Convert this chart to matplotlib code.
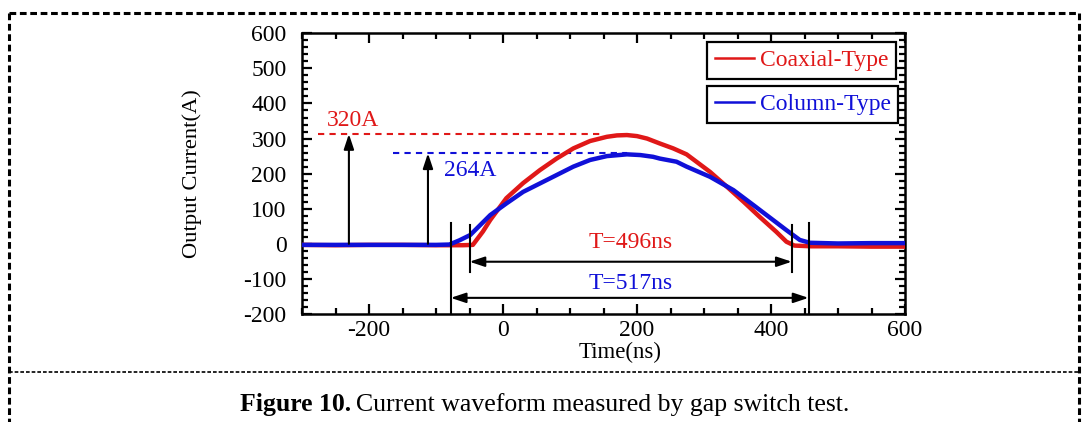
import matplotlib
matplotlib.use("Agg")
import matplotlib.pyplot as plt
from matplotlib.lines import Line2D
from matplotlib.ticker import MultipleLocator

# ---------------- data ----------------
coax_t = [-300, -250, -200, -150, -100, -60, -45, -30, -19, 5, 30, 55, 80, 105, 130,
          155, 170, 185, 200, 215, 234, 254, 274, 309, 334, 359, 383, 408, 423, 435,
          460, 500, 550, 600]
coax_i = [-3, -4, -3, -3, -4, -4, -3, 35, 68, 130, 173, 210, 243, 272, 293,
          305, 309, 310, 307, 300, 286, 272, 255, 205, 163, 120, 77, 34, 6, -5,
          -7, -7, -8, -8]

col_t = [-300, -250, -200, -150, -100, -80, -65, -49, -19, 5, 30, 55, 80, 105, 130,
         155, 185, 205, 224, 234, 259, 274, 309, 344, 374, 403, 423, 443, 458, 500,
         550, 600]
col_i = [-3, -3, -3, -3, -3, -2, 10, 25, 82, 115, 148, 172, 196, 220, 239,
         250, 255, 253, 248, 243, 234, 220, 191, 153, 110, 68, 39, 11, 3, 1,
         2, 2]

series_names = ["Coaxial-Type", "Column-Type"]
peak_labels = ["320A", "264A"]
peak_levels = [313, 258]
period_labels = ["T=496ns", "T=517ns"]
coax_span = [-50, 431]
col_span = [-78, 456]
x_ticks = [-200, 0, 200, 400, 600]
y_ticks = [-200, -100, 0, 100, 200, 300, 400, 500, 600]

RED = "#e01818"
BLUE = "#1010d8"
FONT = "Liberation Serif"
FS = 17

plt.rcParams["font.family"] = [FONT, "DejaVu Serif"]
plt.rcParams["axes.unicode_minus"] = False

W, H = 1089, 422
fig = plt.figure(figsize=(W / 100, H / 100), dpi=100)

def fx(px):
    return px / W

def fy(py):
    return 1 - py / H

ax = fig.add_axes([fx(302), fy(314), fx(905) - fx(302), fy(33.3) - fy(314)])
ax.set_xlim(-300, 600)
ax.set_ylim(-200, 600)

# dashed reference lines
ax.plot([-276, 150], [peak_levels[0]] * 2, color=RED, lw=1.5, ls=(0, (3, 2.5)), zorder=1)
ax.plot([-164, 185], [peak_levels[1]] * 2, color=BLUE, lw=1.5, ls=(0, (3, 2.5)), zorder=1)

# curves
ax.plot(coax_t, coax_i, color=RED, lw=3.2, zorder=3, solid_joinstyle="round")
ax.plot(col_t, col_i, color=BLUE, lw=3.2, zorder=4, solid_joinstyle="round")

# vertical arrows to the peak levels
arr = dict(arrowstyle="-|>,head_length=0.9,head_width=0.3", color="black", lw=1.5,
           shrinkA=0, shrinkB=0)
ax.annotate("", xy=(-230, peak_levels[0]), xytext=(-230, 0), arrowprops=arr, zorder=5)
ax.annotate("", xy=(-112, peak_levels[1]), xytext=(-112, 0), arrowprops=arr, zorder=5)
ax.text(-224, 352, peak_labels[0], color=RED, fontsize=FS, ha="center", va="center")
ax.text(-49, 210, peak_labels[1], color=BLUE, fontsize=FS, ha="center", va="center")

# span markers
for t in coax_span:
    ax.plot([t, t], [53, -80], color="black", lw=1.5, zorder=5)
for t in col_span:
    ax.plot([t, t], [59, -200], color="black", lw=1.5, zorder=5, clip_on=False)
darr = dict(arrowstyle="<|-|>,head_length=0.9,head_width=0.3", color="black", lw=1.5,
            shrinkA=0, shrinkB=0)
ax.annotate("", xy=(coax_span[0], -51), xytext=(coax_span[1], -51), arrowprops=darr, zorder=5)
ax.annotate("", xy=(col_span[0], -154), xytext=(col_span[1], -154), arrowprops=darr, zorder=5)
ax.text(190, 3, period_labels[0], color=RED, fontsize=FS, ha="center", va="center")
ax.text(190, -112, period_labels[1], color=BLUE, fontsize=FS, ha="center", va="center")

# ticks
ax.set_xticks(x_ticks)
ax.set_yticks(y_ticks)
ax.xaxis.set_minor_locator(MultipleLocator(50))
ax.yaxis.set_minor_locator(MultipleLocator(20))
ax.tick_params(which="both", direction="in", top=True, right=True, width=1.6)
ax.tick_params(which="major", length=7)
ax.tick_params(which="minor", length=4.5)
ax.tick_params(axis="x", which="major", pad=4, labelsize=FS)
ax.tick_params(axis="y", which="major", pad=11, labelsize=FS)
for s in ax.spines.values():
    s.set_linewidth(1.8)

ax.set_xlabel("Time(ns)", fontsize=16.5)
ax.set_ylabel("Output Current(A)", fontsize=16.2)
ax.xaxis.set_label_coords(0.527, -0.1)
ax.yaxis.set_label_coords(-0.166, 0.5)

# legends: two separate boxes
def mk_legend(handle, name, color, top_px):
    lg = fig.legend([handle], [name], loc="upper left",
                    bbox_to_anchor=(fx(707), fy(top_px)), bbox_transform=fig.transFigure,
                    fontsize=FS, frameon=True, fancybox=False, borderpad=0.33,
                    handlelength=1.65, handletextpad=0.25, borderaxespad=0)
    lg.get_frame().set_edgecolor("black")
    lg.get_frame().set_linewidth(1.6)
    lg.get_frame().set_facecolor("white")
    lg.get_frame().set_alpha(1)
    for t in lg.get_texts():
        t.set_color(color)
    for h in lg.legend_handles:
        h.set_linewidth(1.8)
    return lg

h1 = Line2D([], [], color=RED, lw=1.8)
h2 = Line2D([], [], color=BLUE, lw=1.8)
mk_legend(h1, series_names[0], RED, 42)
mk_legend(h2, series_names[1], BLUE, 86)

# outer dashed frame and separator
dash = (0, (2.2, 1.2))
for xs, ys, lw in [([9, 1079], [13, 13], 2.2),
                   ([9, 9], [13, 430], 2.2),
                   ([1079, 1079], [13, 430], 2.2),
                   ([9, 1079], [372, 372], 1.2)]:
    fig.add_artist(Line2D([fx(x) for x in xs], [fy(y) for y in ys], color="black",
                          lw=lw, ls=dash, transform=fig.transFigure))

# caption (bold prefix + regular text)
cap1 = fig.text(fx(240), fy(411), "Figure 10.", fontsize=18.5, fontweight="bold",
                ha="left", va="baseline")
fig.canvas.draw()
bb = cap1.get_window_extent(renderer=fig.canvas.get_renderer())
fig.text(bb.x1 / W + fx(5), fy(411), "Current waveform measured by gap switch test.",
         fontsize=18.5, ha="left", va="baseline")

fig.savefig("out.png", dpi=100)
